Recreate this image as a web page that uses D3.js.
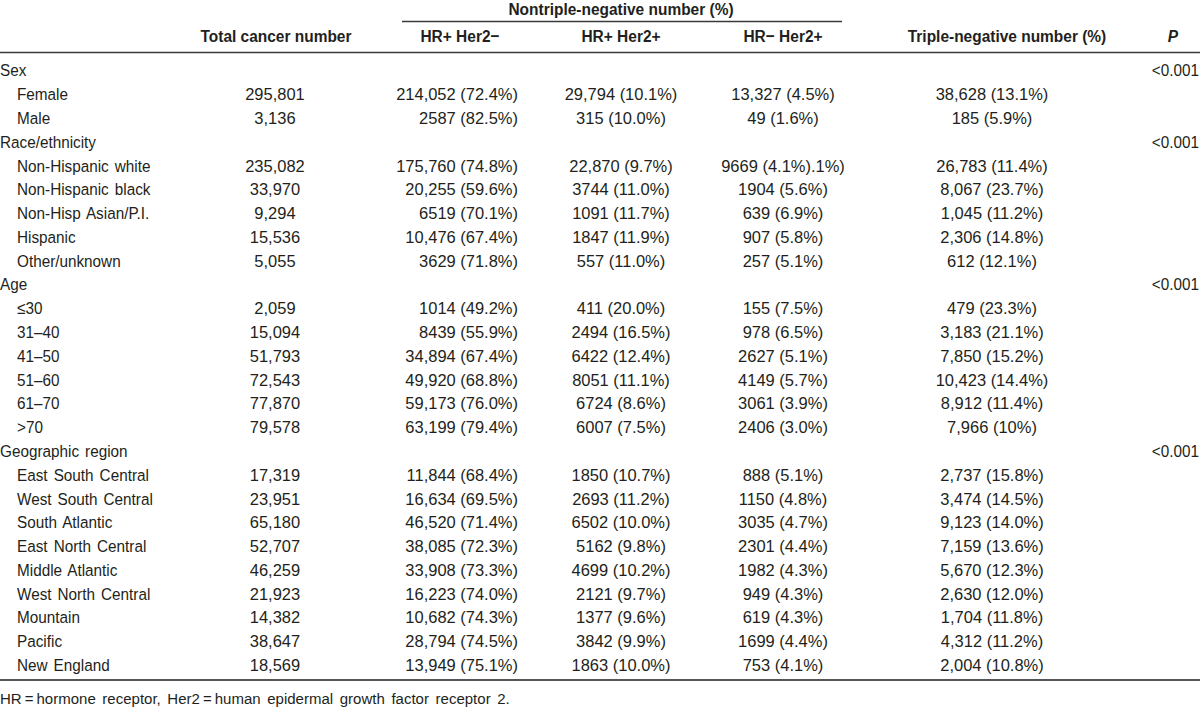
<!DOCTYPE html>
<html>
<head>
<meta charset="utf-8">
<script src="https://cdn.jsdelivr.net/npm/d3@7"></script>
<style>
  html, body { margin: 0; padding: 0; background: #fff; }
  svg { display: block; }
  text { font-family: "Liberation Sans", Arial, Helvetica, sans-serif; fill: #231f20; }
</style>
</head>
<body>
<svg id="chart" width="1200" height="709"></svg>
<script>
// ---------- DATA ----------
const rowLabels = [
  "Sex", "Female", "Male",
  "Race/ethnicity", "Non-Hispanic white", "Non-Hispanic black", "Non-Hisp Asian/P.I.", "Hispanic", "Other/unknown",
  "Age", "\u226430", "31\u201340", "41\u201350", "51\u201360", "61\u201370", ">70",
  "Geographic region", "East South Central", "West South Central", "South Atlantic", "East North Central",
  "Middle Atlantic", "West North Central", "Mountain", "Pacific", "New England"
];
const groupRows = ["Sex", "Race/ethnicity", "Age", "Geographic region"];

const totalNumber = [
  "", "295,801", "3,136",
  "", "235,082", "33,970", "9,294", "15,536", "5,055",
  "", "2,059", "15,094", "51,793", "72,543", "77,870", "79,578",
  "", "17,319", "23,951", "65,180", "52,707", "46,259", "21,923", "14,382", "38,647", "18,569"
];
const hrPosHer2Neg = [
  "", "214,052 (72.4%)", "2587 (82.5%)",
  "", "175,760 (74.8%)", "20,255 (59.6%)", "6519 (70.1%)", "10,476 (67.4%)", "3629 (71.8%)",
  "", "1014 (49.2%)", "8439 (55.9%)", "34,894 (67.4%)", "49,920 (68.8%)", "59,173 (76.0%)", "63,199 (79.4%)",
  "", "11,844 (68.4%)", "16,634 (69.5%)", "46,520 (71.4%)", "38,085 (72.3%)", "33,908 (73.3%)",
  "16,223 (74.0%)", "10,682 (74.3%)", "28,794 (74.5%)", "13,949 (75.1%)"
];
const hrPosHer2Pos = [
  "", "29,794 (10.1%)", "315 (10.0%)",
  "", "22,870 (9.7%)", "3744 (11.0%)", "1091 (11.7%)", "1847 (11.9%)", "557 (11.0%)",
  "", "411 (20.0%)", "2494 (16.5%)", "6422 (12.4%)", "8051 (11.1%)", "6724 (8.6%)", "6007 (7.5%)",
  "", "1850 (10.7%)", "2693 (11.2%)", "6502 (10.0%)", "5162 (9.8%)", "4699 (10.2%)",
  "2121 (9.7%)", "1377 (9.6%)", "3842 (9.9%)", "1863 (10.0%)"
];
const hrNegHer2Pos = [
  "", "13,327 (4.5%)", "49 (1.6%)",
  "", "9669 (4.1%).1%)", "1904 (5.6%)", "639 (6.9%)", "907 (5.8%)", "257 (5.1%)",
  "", "155 (7.5%)", "978 (6.5%)", "2627 (5.1%)", "4149 (5.7%)", "3061 (3.9%)", "2406 (3.0%)",
  "", "888 (5.1%)", "1150 (4.8%)", "3035 (4.7%)", "2301 (4.4%)", "1982 (4.3%)",
  "949 (4.3%)", "619 (4.3%)", "1699 (4.4%)", "753 (4.1%)"
];
const tripleNegative = [
  "", "38,628 (13.1%)", "185 (5.9%)",
  "", "26,783 (11.4%)", "8,067 (23.7%)", "1,045 (11.2%)", "2,306 (14.8%)", "612 (12.1%)",
  "", "479 (23.3%)", "3,183 (21.1%)", "7,850 (15.2%)", "10,423 (14.4%)", "8,912 (11.4%)", "7,966 (10%)",
  "", "2,737 (15.8%)", "3,474 (14.5%)", "9,123 (14.0%)", "7,159 (13.6%)", "5,670 (12.3%)",
  "2,630 (12.0%)", "1,704 (11.8%)", "4,312 (11.2%)", "2,004 (10.8%)"
];
const pValues = [
  "<0.001", "", "",
  "<0.001", "", "", "", "", "",
  "<0.001", "", "", "", "", "", "",
  "<0.001", "", "", "", "", "", "", "", "", ""
];

const columnKeys = ["label", "total", "hrpn", "hrpp", "hrnp", "tn", "p"];
const columnHeaders = ["", "Total cancer number", "HR+ Her2\u2212", "HR+ Her2+", "HR\u2212 Her2+", "Triple-negative number (%)", "P"];
const spanHeader = "Nontriple-negative number (%)";
const footnote = "HR\u2009=\u2009hormone receptor, Her2\u2009=\u2009human epidermal growth factor receptor 2.";

// ---------- LAYOUT ----------
const W = 1200, H = 709;
const svg = d3.select("#chart");
const fs = 17;
// horizontal squeeze per text kind (condensed look)
const sxLabel = 0.9, sxNum = 0.97, sxP = 0.9, sxBold = 0.91;

function place(sel, x, sx) {
  sel.attr("x", typeof x === "function" ? (d => x(d) / sx) : x / sx)
     .attr("transform", `scale(${sx},1)`);
  return sel;
}

const colX = d3.scaleOrdinal().domain(columnKeys).range([0, 275, 518, 621, 783, 992, 1199]);
const colAnchor = d3.scaleOrdinal().domain(columnKeys).range(["start", "middle", "end", "middle", "middle", "middle", "end"]);
const colSx = d3.scaleOrdinal().domain(columnKeys).range([sxLabel, sxNum, sxNum, sxNum, sxNum, sxNum, sxP]);
const headerX = d3.scaleOrdinal().domain(columnKeys).range([0, 276, 460, 621, 783, 1007, 1173]);

const y = d3.scalePoint().domain(d3.range(rowLabels.length)).range([70.5, 665]);

// header span
place(svg.append("text"), 621, sxBold).attr("y", 9).attr("dy", "0.35em")
  .attr("text-anchor", "middle").attr("font-size", fs).attr("font-weight", "bold").text(spanHeader);
svg.append("line").attr("x1", 402).attr("x2", 842).attr("y1", 21.5).attr("y2", 21.5)
  .attr("stroke", "#3a3a3a").attr("stroke-width", 1.3);

place(svg.selectAll("text.hdr").data(columnKeys.slice(1)).join("text").attr("class", "hdr"),
      d => headerX(d), sxBold)
  .attr("y", 36).attr("dy", "0.35em")
  .attr("text-anchor", "middle").attr("font-size", fs).attr("font-weight", "bold")
  .attr("font-style", d => d === "p" ? "italic" : null)
  .text(d => columnHeaders[columnKeys.indexOf(d)]);

svg.append("line").attr("x1", 0).attr("x2", W).attr("y1", 52.5).attr("y2", 52.5)
  .attr("stroke", "#3a3a3a").attr("stroke-width", 1.6);

// body
const rows = rowLabels.map((lab, i) => ({
  i, label: lab, group: groupRows.includes(lab),
  total: totalNumber[i], hrpn: hrPosHer2Neg[i], hrpp: hrPosHer2Pos[i],
  hrnp: hrNegHer2Pos[i], tn: tripleNegative[i], p: pValues[i]
}));

const rowG = svg.append("g").selectAll("g.row").data(rows).join("g").attr("class", "row")
  .attr("transform", d => `translate(0,${y(d.i)})`);

columnKeys.forEach(k => {
  place(rowG.append("text"), d => (k === "label" ? (d.group ? 0 : 17) : colX(k)), colSx(k))
    .attr("dy", "0.35em")
    .attr("text-anchor", colAnchor(k))
    .attr("font-size", fs)
    .attr("word-spacing", k === "label" ? 2 : 0)
    .text(d => d[k]);
});

svg.append("line").attr("x1", 0).attr("x2", W).attr("y1", 680).attr("y2", 680)
  .attr("stroke", "#555").attr("stroke-width", 2);

place(svg.append("text"), 0, 0.97).attr("y", 699).attr("dy", "0.35em")
  .attr("font-size", 15.5).attr("word-spacing", 2.5).text(footnote);
</script>
</body>
</html>
